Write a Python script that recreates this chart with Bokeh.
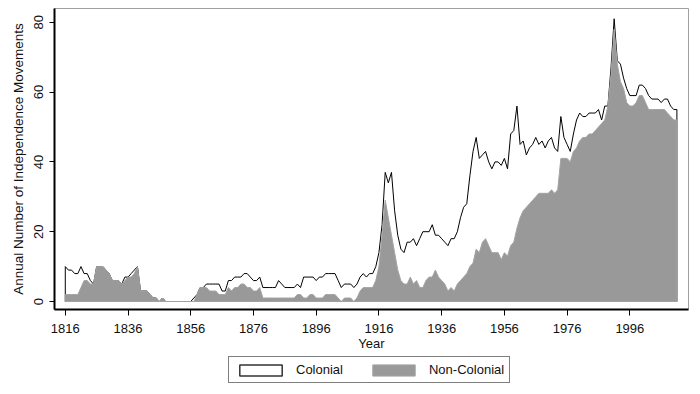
from bokeh.plotting import figure
from bokeh.layouts import column
from bokeh.models import Range1d, FixedTicker, Legend, LegendItem
from bokeh.embed import file_html
from bokeh.resources import INLINE

# ---------------- data ----------------
start_year = 1816
end_year = 2011
years = list(range(start_year, end_year + 1))

colonial = (
    [10, 9, 9, 8]                                   # 1816-1819
    + [8, 10, 8, 8, 6, 5, 10, 10, 10, 9]            # 1820s
    + [8, 6, 6, 6, 5, 7, 7, 8, 9, 10]               # 1830s
    + [3, 3, 3, 2, 1, 1, 0, 1, 0, 0]                # 1840s
    + [0, 0, 0, 0, 0, 0, 0, 1, 2, 4]                # 1850s
    + [4, 5, 5, 5, 5, 5, 3, 3, 6, 6]                # 1860s
    + [7, 7, 7, 8, 8, 7, 6, 6, 7, 4]                # 1870s
    + [4, 4, 4, 4, 6, 5, 4, 4, 4, 4]                # 1880s
    + [5, 4, 7, 7, 7, 7, 6, 7, 7, 8]                # 1890s
    + [8, 8, 8, 6, 4, 5, 5, 5, 4, 5]                # 1900s
    + [7, 8, 7, 8, 8, 10, 14, 22, 37, 34]           # 1910s
    + [37, 26, 19, 15, 14, 17, 17, 18, 16, 18]      # 1920s
    + [20, 20, 20, 22, 19, 19, 18, 17, 16, 18]      # 1930s
    + [18, 20, 24, 27, 28, 36, 43, 47, 41, 42]      # 1940s
    + [43, 40, 38, 40, 40, 39, 41, 38, 48, 49]      # 1950s
    + [56, 45, 46, 42, 44, 45, 47, 45, 46, 44]      # 1960s
    + [46, 47, 44, 43, 53, 47, 45, 43, 48, 52]      # 1970s
    + [54, 53, 53, 54, 54, 54, 55, 52, 56, 56]      # 1980s
    + [67, 81, 69, 68, 64, 61, 59, 59, 59, 62]      # 1990s
    + [62, 61, 59, 58, 58, 58, 57, 58, 58, 56]      # 2000s
    + [55, 55]                                      # 2010-2011
)

non_colonial = (
    [2, 2, 2, 2]
    + [2, 4, 6, 6, 5, 5, 10, 10, 10, 9]
    + [8, 6, 6, 6, 5, 6, 7, 7, 8, 10]
    + [3, 3, 3, 2, 1, 1, 0, 1, 0, 0]
    + [0, 0, 0, 0, 0, 0, 0, 0, 2, 4]
    + [4, 4, 3, 3, 3, 2, 2, 2, 4, 3]
    + [4, 4, 5, 5, 4, 4, 3, 3, 4, 1]
    + [1, 1, 1, 1, 1, 1, 1, 1, 1, 1]
    + [2, 2, 1, 1, 2, 2, 1, 1, 1, 2]
    + [2, 2, 2, 1, 0, 1, 1, 1, 0, 1]
    + [3, 4, 4, 4, 4, 6, 10, 19, 29, 24]
    + [19, 14, 9, 6, 5, 5, 7, 5, 6, 4]
    + [4, 6, 7, 7, 9, 7, 6, 5, 3, 4]
    + [3, 5, 6, 7, 8, 10, 11, 15, 14, 17]
    + [18, 16, 14, 14, 14, 12, 14, 13, 16, 17]
    + [21, 24, 26, 27, 28, 29, 30, 31, 31, 31]
    + [31, 32, 31, 32, 41, 41, 41, 40, 43, 44]
    + [46, 47, 47, 48, 48, 49, 50, 51, 52, 56]
    + [65, 78, 68, 63, 61, 57, 56, 56, 57, 59]
    + [59, 57, 55, 55, 55, 55, 55, 55, 54, 53]
    + [52, 52]
)

x_ticks = [1816, 1836, 1856, 1876, 1896, 1916, 1936, 1956, 1976, 1996]
y_ticks = [0, 20, 40, 60, 80]
series_labels = ["Colonial", "Non-Colonial"]
x_label = "Year"
y_label = "Annual Number of Independence Movements"

FONT = "Liberation Sans"
TEXT = "#111111"
GRAY_FILL = "#999999"
GRAY_LINE = "#a3a3a3"

# closed outlines from the baseline, through the data, back to the baseline
col_x = [years[0]] + years + [years[-1]]
col_y = [0] + colonial + [0]
non_x = [years[0]] + years + [years[-1]]
non_y = [0] + non_colonial + [0]

# ---------------- main figure ----------------
p = figure(
    width=700, height=353,
    output_backend="svg", toolbar_location=None,
    x_range=Range1d(1812.56, 2014.7),
    y_range=Range1d(-2.29, 83.95),
    min_border_left=54, min_border_right=12,
    min_border_top=8, min_border_bottom=44,
)
p.background_fill_color = "white"
p.border_fill_color = "white"
p.outline_line_color = "#a0a0a0"
p.outline_line_width = 1
p.grid.visible = False

p.patch(col_x, col_y, fill_color="white", line_color="black", line_width=1)
p.patch(non_x, non_y, fill_color=GRAY_FILL, line_color=GRAY_LINE, line_width=1)

for ax in (p.xaxis, p.yaxis):
    ax.axis_line_color = "black"
    ax.axis_line_width = 2
    ax.major_tick_line_color = "black"
    ax.major_tick_line_width = 1
    ax.major_tick_in = 0
    ax.minor_tick_line_color = None
    ax.major_label_text_font = FONT
    ax.major_label_text_font_size = "13px"
    ax.major_label_text_color = TEXT
    ax.axis_label_text_font = FONT
    ax.axis_label_text_font_style = "normal"
    ax.axis_label_text_color = TEXT

p.xaxis.ticker = FixedTicker(ticks=x_ticks, minor_ticks=[])
p.xaxis.axis_label = x_label
p.xaxis.major_tick_out = 6
p.xaxis.major_label_standoff = 8
p.xaxis.axis_label_standoff = 0
p.xaxis.axis_label_text_font_size = "13px"

p.yaxis.ticker = FixedTicker(ticks=y_ticks, minor_ticks=[])
p.yaxis.axis_label = y_label
p.yaxis.major_label_orientation = "vertical"
p.yaxis.major_tick_out = 5
p.yaxis.major_label_standoff = 6
p.yaxis.axis_label_standoff = 6
p.yaxis.axis_label_text_font_size = "13.5px"

# ---------------- legend strip below the chart ----------------
# The same series are drawn here outside the visible range; only their
# legend swatches show.
q = figure(
    width=700, height=41,
    output_backend="svg", toolbar_location=None,
    x_range=Range1d(0, 1), y_range=Range1d(0, 1),
    x_axis_location=None, y_axis_location=None,
    min_border=0,
)
q.outline_line_color = None
q.grid.visible = False
q.background_fill_color = "white"
q.border_fill_color = "white"

k_col = q.patch(col_x, col_y, fill_color="white", line_color="#333333", line_width=1.5)
k_non = q.patch(non_x, non_y, fill_color=GRAY_FILL, line_color=GRAY_LINE, line_width=1)

legend = Legend(
    items=[LegendItem(label=series_labels[0], renderers=[k_col]),
           LegendItem(label=series_labels[1], renderers=[k_non])],
    orientation="horizontal",
    location=(174, 11),
    glyph_width=53, glyph_height=14,
    label_height=14,
    label_standoff=9,
    spacing=24,
    padding=5,
    margin=0,
    border_line_color="black",
    border_line_width=1,
    label_text_font=FONT,
    label_text_font_size="13px",
    label_text_color=TEXT,
    background_fill_color="white",
)
q.add_layout(legend)

layout = column(p, q, spacing=0)
open("out.html", "w").write(file_html(layout, INLINE))
